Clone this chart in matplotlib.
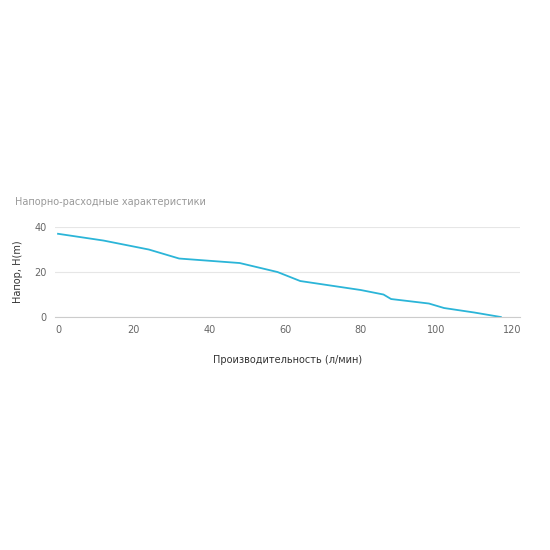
import matplotlib.pyplot as plt

flow = [0, 12, 24, 32, 48, 58, 64, 72, 80, 86, 88, 98, 102, 110, 117]
head = [37, 34, 30, 26, 24, 20, 16, 14, 12, 10, 8, 6, 4, 2, 0]
x_ticks = [0, 20, 40, 60, 80, 100, 120]
y_ticks = [0, 20, 40]

fig = plt.figure(figsize=(5.5, 5.5), dpi=100)
ax = fig.add_axes([0.1, 0.4236, 0.845, 0.1636])
ax.plot(flow, head, color='#2bb5d8', lw=1.3)
ax.set_xlim(-0.8, 122)
ax.set_ylim(0, 40)
ax.set_xticks(x_ticks)
ax.set_yticks(y_ticks)
ax.grid(axis='y', color='#e6e6e6', lw=0.8)
ax.set_axisbelow(True)
for s in ['top', 'right', 'left']:
    ax.spines[s].set_visible(False)
ax.spines['bottom'].set_color('#cccccc')
ax.tick_params(length=0, labelsize=7, colors='#666666', pad=6)
ax.set_xlabel('Производительность (л/мин)', fontsize=7, color='#333333', labelpad=14)
ax.set_ylabel('Напор, H(m)', fontsize=7, color='#333333', labelpad=8)
fig.text(0.028, 0.627, 'Напорно-расходные характеристики', fontsize=7, color='#999999')
fig.savefig('out.png')
